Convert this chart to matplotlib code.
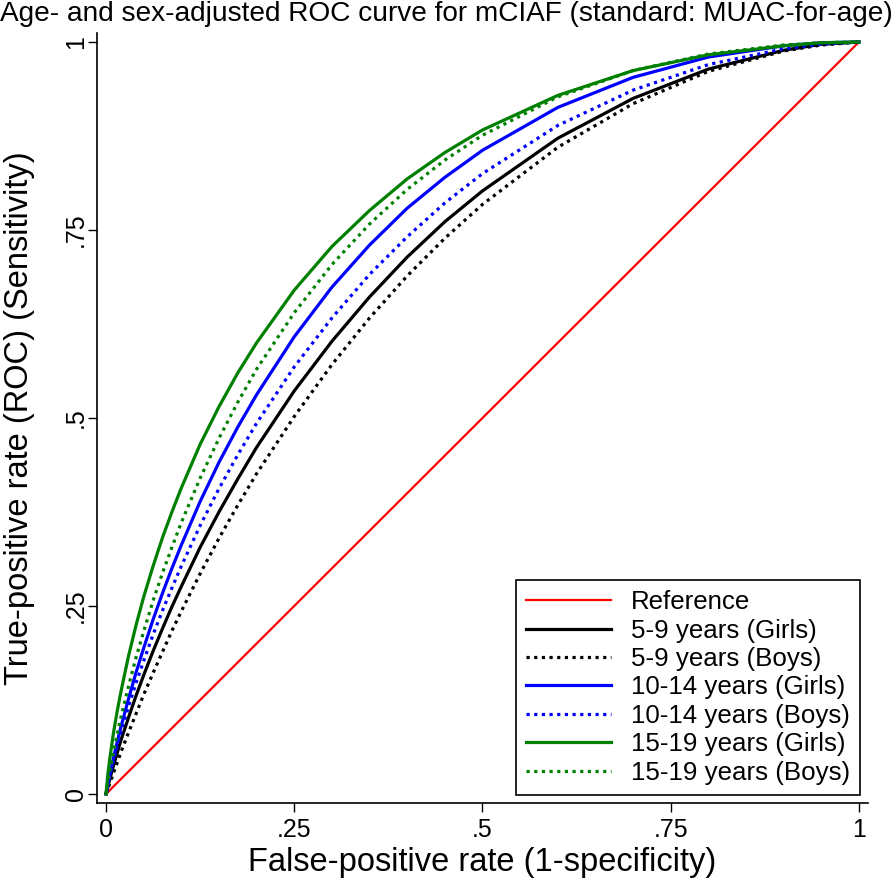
# Age- and sex-adjusted ROC curves, mCIAF vs MUAC-for-age
import matplotlib
matplotlib.use("Agg")
from matplotlib import pyplot as plt

plt.rcParams['font.family'] = ['Liberation Sans', 'DejaVu Sans']

# false-positive rate grid
fpr = [0, 0.0025, 0.005, 0.01, 0.015, 0.02, 0.03, 0.04, 0.05, 0.0625, 0.075, 0.0875, 0.1,
       0.125, 0.15, 0.175, 0.2, 0.25, 0.3, 0.35, 0.4, 0.45, 0.5, 0.6, 0.7, 0.8, 0.9, 0.95, 1]

# sensitivity per group
girls_5_9 = [0, 0.010, 0.020, 0.038, 0.055, 0.072, 0.102, 0.131, 0.158, 0.190, 0.220, 0.249, 0.276,
             0.328, 0.375, 0.419, 0.461, 0.536, 0.602, 0.661, 0.714, 0.761, 0.802, 0.872, 0.925,
             0.964, 0.989, 0.997, 1]
boys_5_9 = [0, 0.007, 0.014, 0.028, 0.042, 0.056, 0.082, 0.107, 0.132, 0.161, 0.189, 0.217, 0.243,
            0.293, 0.340, 0.384, 0.426, 0.502, 0.571, 0.633, 0.689, 0.739, 0.784, 0.860, 0.918,
            0.961, 0.988, 0.996, 1]
girls_10_14 = [0, 0.013, 0.025, 0.048, 0.070, 0.090, 0.127, 0.162, 0.194, 0.232, 0.267, 0.300, 0.331,
               0.389, 0.441, 0.488, 0.531, 0.608, 0.674, 0.730, 0.779, 0.820, 0.856, 0.913, 0.953,
               0.980, 0.995, 0.999, 1]
boys_10_14 = [0, 0.013, 0.024, 0.045, 0.064, 0.083, 0.117, 0.148, 0.177, 0.212, 0.244, 0.274, 0.303,
              0.357, 0.406, 0.451, 0.493, 0.568, 0.633, 0.691, 0.741, 0.786, 0.825, 0.889, 0.936,
              0.970, 0.991, 0.997, 1]
girls_15_19 = [0, 0.027, 0.047, 0.082, 0.111, 0.137, 0.184, 0.225, 0.262, 0.303, 0.341, 0.375, 0.407,
               0.465, 0.515, 0.560, 0.600, 0.670, 0.728, 0.776, 0.818, 0.853, 0.883, 0.929, 0.962,
               0.983, 0.995, 0.999, 1]
boys_15_19 = [0, 0.016, 0.030, 0.056, 0.080, 0.103, 0.144, 0.182, 0.216, 0.257, 0.294, 0.328, 0.361,
              0.420, 0.473, 0.521, 0.565, 0.640, 0.704, 0.758, 0.804, 0.843, 0.876, 0.927, 0.962,
              0.984, 0.996, 0.999, 1]

ref_line = [0, 1]
ticks = [0, 0.25, 0.5, 0.75, 1]
tick_labels = ["0", ".25", ".5", ".75", "1"]

green = (0, 0.5, 0)
dots = (0, (1.0, 1.4))

fig = plt.figure(figsize=(8.94, 8.82), dpi=100)
ax = fig.add_axes([0.1085, 0.0896, 0.8624, 0.873])

ax.plot(ref_line, ref_line, color="red", lw=1.6, label="Reference")
ax.plot(fpr, girls_5_9, color="black", lw=2.3, label="5-9 years (Girls)")
ax.plot(fpr, boys_5_9, color="black", lw=2.3, ls=dots, label="5-9 years (Boys)")
ax.plot(fpr, girls_10_14, color="blue", lw=2.3, label="10-14 years (Girls)")
ax.plot(fpr, boys_10_14, color="blue", lw=2.3, ls=dots, label="10-14 years (Boys)")
ax.plot(fpr, girls_15_19, color=green, lw=2.3, label="15-19 years (Girls)")
ax.plot(fpr, boys_15_19, color=green, lw=2.3, ls=dots, label="15-19 years (Boys)")

ax.set_xlim(-0.012, 1.012)
ax.set_ylim(-0.012, 1.012)
ax.set_xticks(ticks)
ax.set_xticklabels(tick_labels)
ax.set_yticks(ticks)
ax.set_yticklabels(tick_labels, rotation=90, va="center")
ax.tick_params(labelsize=18, length=6.5, width=1, color="black")
ax.tick_params(axis="y", pad=0)
ax.tick_params(axis="x", pad=4)

for side in ["top", "right"]:
    ax.spines[side].set_visible(False)
for side in ["left", "bottom"]:
    ax.spines[side].set_linewidth(1.2)

ax.set_xlabel("False-positive rate (1-specificity)", fontsize=23.5, labelpad=4)
ax.set_ylabel("True-positive rate (ROC) (Sensitivity)", fontsize=23.5)
ax.yaxis.set_label_coords(-0.081, 0.5)
fig.text(0.0, 0.984, "Age- and sex-adjusted ROC curve for mCIAF (standard: MUAC-for-age)",
         fontsize=20.2, va="center", ha="left")

leg = ax.legend(loc="lower right", bbox_to_anchor=(0.99, 0.0104), borderaxespad=0,
                fontsize=18.6, fancybox=False, edgecolor="black", framealpha=1,
                handlelength=3.3, handletextpad=0.75, labelspacing=0.17, borderpad=0.4)
leg.get_frame().set_linewidth(1.2)

fig.savefig("out.png")
